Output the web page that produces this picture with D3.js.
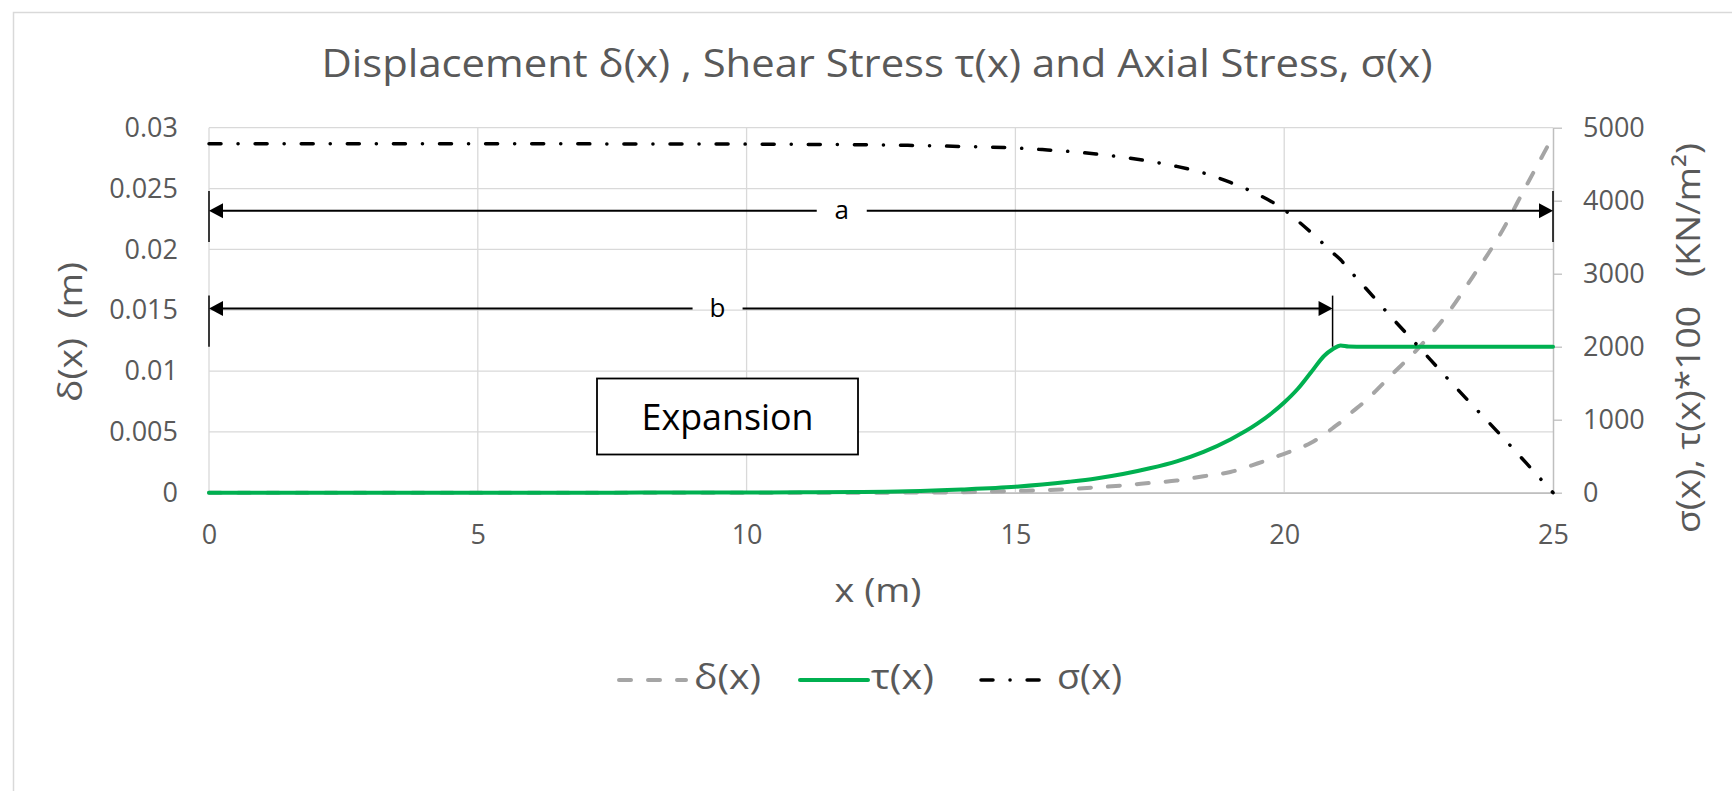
<!DOCTYPE html>
<html>
<head>
<meta charset="utf-8">
<script src="https://cdn.jsdelivr.net/npm/d3@7"></script>
<style>
  html, body { margin: 0; padding: 0; background: #fff; }
  svg { display: block; }
  text { font-family: "Open Sans", "Noto Sans", sans-serif; white-space: pre; }
</style>
</head>
<body>
<svg id="chart" width="1732" height="791"></svg>
<script>
// ---------- data ----------
const xValues     = [0, 2.5, 5, 7.5, 10, 11, 12, 13, 14, 15, 15.5, 16, 16.5, 17, 17.5, 18, 18.5, 19, 19.5, 20, 20.25, 20.5, 20.75, 20.9, 21.05, 21.2, 21.5, 22, 22.5, 23, 23.5, 24, 24.5, 25];
const deltaValues = [0, 0, 0, 0, 0, 0, 0, 0.00001, 0.00004, 0.00014, 0.0002, 0.0003, 0.00044, 0.0006, 0.0008, 0.001, 0.00135, 0.0017, 0.0024, 0.0032, 0.0036, 0.0041, 0.0048, 0.0053, 0.0058, 0.0064, 0.0075, 0.0097, 0.0119, 0.0145, 0.0177, 0.0211, 0.0252, 0.0293];
const tauValues   = [0, 0, 0, 1, 3, 5, 9, 20, 45, 82, 112, 150, 195, 255, 334, 430, 560, 730, 945, 1235, 1420, 1650, 1880, 1965, 2018, 2003, 2000, 2000, 2000, 2000, 2000, 2000, 2000, 2000];
const sigmaValues = [4780, 4780, 4780, 4778, 4775, 4772, 4767, 4758, 4743, 4722, 4700, 4675, 4640, 4595, 4540, 4470, 4380, 4250, 4090, 3875, 3725, 3565, 3395, 3290, 3190, 3060, 2815, 2400, 2000, 1595, 1200, 810, 408, 0];

const xTicks     = [0, 5, 10, 15, 20, 25];
const leftTicks  = [0, 0.005, 0.01, 0.015, 0.02, 0.025, 0.03];
const leftTickLabels = ["0", "0.005", "0.01", "0.015", "0.02", "0.025", "0.03"];
const rightTicks = [0, 1000, 2000, 3000, 4000, 5000];

const seriesNames = ["δ(x)", "τ(x)", "σ(x)"];

// dimension annotations (a, b)
const dimLabels   = ["a", "b"];
const dimStart    = [0, 0];
const dimEnd      = [25, 20.9];
const dimLevel    = [0.02318, 0.01514];
const dimLabelPos = [11.77, 9.46];
const dimBarLow   = [0.0206, 0.0120];
const dimBarHigh  = [0.0248, 0.0162];

const titleText = "Displacement δ(x) , Shear Stress τ(x) and Axial Stress, σ(x)";

// ---------- layout ----------
const svg = d3.select("#chart");
const TXT = "#595959";
const GRID = "#d9d9d9";
const AXIS = "#bfbfbf";

const x  = d3.scaleLinear().domain([0, 25]).range([209, 1553]);
const yL = d3.scaleLinear().domain([0, 0.03]).range([492.7, 127.7]);
const yR = d3.scaleLinear().domain([0, 5000]).range([492.7, 127.7]);

// outer chart border
svg.append("rect").attr("x", 13.5).attr("y", 12.5).attr("width", 1800).attr("height", 900)
  .attr("fill", "none").attr("stroke", GRID).attr("stroke-width", 1.5);

// title
svg.append("text").attr("x", 877).attr("y", 77).attr("text-anchor", "middle")
  .attr("font-size", 38).attr("fill", TXT)
  .attr("textLength", 1111).attr("lengthAdjust", "spacingAndGlyphs")
  .text(titleText);

// gridlines
const grid = svg.append("g");
grid.selectAll("line.h").data(leftTicks).join("line").attr("class", "h")
  .attr("x1", x(0)).attr("x2", x(25)).attr("y1", d => yL(d)).attr("y2", d => yL(d))
  .attr("stroke", GRID).attr("stroke-width", 1.3);
grid.selectAll("line.v").data(xTicks.filter(d => d < 25)).join("line").attr("class", "v")
  .attr("x1", d => x(d)).attr("x2", d => x(d)).attr("y1", yL(0.03)).attr("y2", yL(0))
  .attr("stroke", GRID).attr("stroke-width", 1.3);

// axes
const axL = d3.axisLeft(yL).tickValues(leftTicks).tickSize(0).tickPadding(31)
  .tickFormat((d, i) => leftTickLabels[i]);
const gL = svg.append("g").attr("transform", `translate(${x(0)},0)`).call(axL);
gL.select(".domain").remove();

const axB = d3.axisBottom(x).tickValues(xTicks).tickSize(0).tickPadding(32).tickFormat(d3.format("d"));
const gB = svg.append("g").attr("transform", `translate(0,${yL(0)})`).call(axB);
gB.select(".domain").attr("stroke", AXIS).attr("stroke-width", 1.5);

const axR = d3.axisRight(yR).tickValues(rightTicks).tickSize(9).tickSizeOuter(0).tickPadding(21).tickFormat(d3.format("d"));
const gR = svg.append("g").attr("transform", `translate(${x(25)},0)`).call(axR);
gR.select(".domain").attr("stroke", AXIS).attr("stroke-width", 1.5);
gR.selectAll(".tick line").attr("stroke", AXIS).attr("stroke-width", 1.3);

[gL, gB, gR].forEach(g => g.selectAll("text")
  .attr("fill", TXT).attr("font-size", 27).style("font-family", '"Open Sans", sans-serif'));

// axis titles
svg.append("text").attr("transform", "translate(82,332) rotate(-90)")
  .attr("text-anchor", "middle").attr("font-size", 32).attr("fill", TXT)
  .attr("textLength", 140).attr("lengthAdjust", "spacingAndGlyphs")
  .text("δ(x)  (m)");

svg.append("text").attr("transform", "translate(1700,338) rotate(-90)")
  .attr("text-anchor", "middle").attr("font-size", 33).attr("fill", TXT)
  .attr("textLength", 390).attr("lengthAdjust", "spacingAndGlyphs")
  .text("σ(x), τ(x)*100   (KN/m²)");

svg.append("text").attr("x", 878).attr("y", 602).attr("text-anchor", "middle")
  .attr("font-size", 32).attr("fill", TXT)
  .attr("textLength", 87).attr("lengthAdjust", "spacingAndGlyphs")
  .text("x (m)");

// ---------- series ----------
const pts = vals => xValues.map((xv, i) => [xv, vals[i]]);
const lineL = d3.line().x(d => x(d[0])).y(d => yL(d[1])).curve(d3.curveMonotoneX);
const lineR = d3.line().x(d => x(d[0])).y(d => yR(d[1])).curve(d3.curveMonotoneX);

const styles = [
  { stroke: "#a5a5a5", width: 4, dash: "12,17", cap: "round" },
  { stroke: "#00b050", width: 4, dash: null, cap: "round" },
  { stroke: "#000000", width: 3.5, dash: "12,17,0.1,17", cap: "round" }
];

svg.append("path").attr("d", lineL(pts(deltaValues))).attr("fill", "none")
  .attr("stroke", styles[0].stroke).attr("stroke-width", styles[0].width)
  .attr("stroke-dasharray", styles[0].dash).attr("stroke-linecap", styles[0].cap);
svg.append("path").attr("d", lineR(pts(tauValues))).attr("fill", "none")
  .attr("stroke", styles[1].stroke).attr("stroke-width", styles[1].width)
  .attr("stroke-linejoin", "round").attr("stroke-linecap", "round");
svg.append("path").attr("d", lineR(pts(sigmaValues))).attr("fill", "none")
  .attr("stroke", styles[2].stroke).attr("stroke-width", styles[2].width)
  .attr("stroke-dasharray", styles[2].dash).attr("stroke-linecap", styles[2].cap);

// ---------- annotations ----------
const ann = svg.append("g");
dimLabels.forEach((lab, i) => {
  const yy = yL(dimLevel[i]);
  const xl = x(dimStart[i]), xr = x(dimEnd[i]), xm = x(dimLabelPos[i]);
  const head = 14, hh = 7.5, gap = 25;
  ann.append("line").attr("x1", xl + head - 1).attr("x2", xm - gap).attr("y1", yy).attr("y2", yy)
    .attr("stroke", "#000").attr("stroke-width", 2);
  ann.append("line").attr("x1", xm + gap).attr("x2", xr - head + 1).attr("y1", yy).attr("y2", yy)
    .attr("stroke", "#000").attr("stroke-width", 2);
  ann.append("path").attr("d", `M${xl},${yy}L${xl + head},${yy - hh}L${xl + head},${yy + hh}Z`).attr("fill", "#000");
  ann.append("path").attr("d", `M${xr},${yy}L${xr - head},${yy - hh}L${xr - head},${yy + hh}Z`).attr("fill", "#000");
  [xl, xr].forEach(bx => ann.append("line").attr("x1", bx).attr("x2", bx)
    .attr("y1", yL(dimBarHigh[i])).attr("y2", yL(dimBarLow[i]))
    .attr("stroke", "#000").attr("stroke-width", 1.5));
  ann.append("text").attr("x", xm).attr("y", yy + 8.5).attr("text-anchor", "middle")
    .attr("font-size", 26).attr("fill", "#000").text(lab);
});

// Expansion box
svg.append("rect").attr("x", 597).attr("y", 378.5).attr("width", 261).attr("height", 76)
  .attr("fill", "#fff").attr("stroke", "#000").attr("stroke-width", 1.8);
svg.append("text").attr("x", 727.5).attr("y", 430).attr("text-anchor", "middle")
  .attr("font-size", 37).attr("fill", "#000")
  .attr("textLength", 172).attr("lengthAdjust", "spacingAndGlyphs")
  .text("Expansion");

// ---------- legend ----------
const legY = 680;
const legSamples = [[619, 686], [800, 868], [981, 1042]];
const legText = [[694, 67], [871, 63], [1057, 65]];
seriesNames.forEach((name, i) => {
  const s = styles[i];
  svg.append("line").attr("x1", legSamples[i][0]).attr("x2", legSamples[i][1])
    .attr("y1", legY).attr("y2", legY)
    .attr("stroke", s.stroke).attr("stroke-width", s.width)
    .attr("stroke-dasharray", s.dash).attr("stroke-linecap", s.cap);
  svg.append("text").attr("x", legText[i][0]).attr("y", legY + 9)
    .attr("font-size", 34).attr("fill", TXT)
    .attr("textLength", legText[i][1]).attr("lengthAdjust", "spacingAndGlyphs")
    .text(name);
});
</script>
</body>
</html>
